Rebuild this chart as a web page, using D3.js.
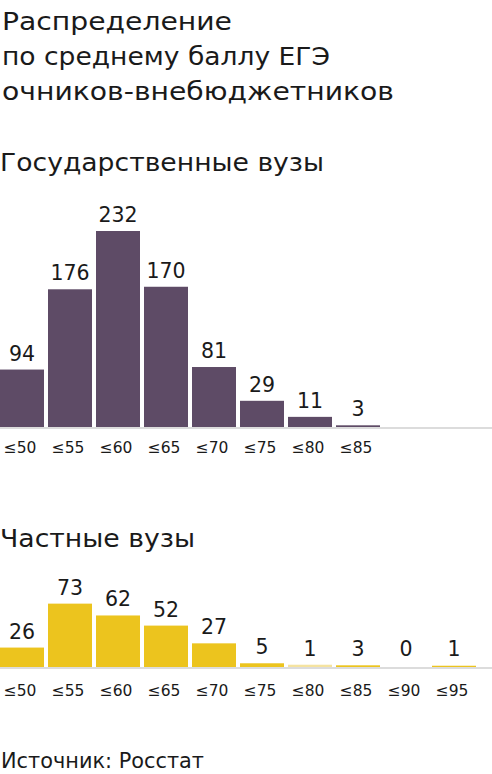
<!DOCTYPE html>
<html><head><meta charset="utf-8">
<script src="https://cdn.jsdelivr.net/npm/d3@7"></script>
<style>
html,body{margin:0;padding:0;background:#fff;overflow:hidden}
text{font-family:"DejaVu Sans",sans-serif;fill:#1a1a1a}
</style></head>
<body><svg id="c" width="492" height="774"></svg>
<script>
const titleLines = ["Распределение", "по среднему баллу ЕГЭ", "очников-внебюджетников"];
const categories = ["≤50","≤55","≤60","≤65","≤70","≤75","≤80","≤85","≤90","≤95"];
const govLabels = [94,176,232,170,81,29,11,3];
const govBarValues = [68,163,232,166,71,31,12,2];
const privLabels = [26,73,62,52,27,5,1,3,0,1];
const privBarValues = [23,75,61,49,28,4.4,2.7,2,0,1.5];
const govTitle = "Государственные вузы";
const privTitle = "Частные вузы";
const source = "Источник: Росстат";

const svg = d3.select("#c");
const x = d3.scaleBand().domain(categories).range([0,476]).paddingInner(4/48).paddingOuter(0);
const h = d3.scaleLinear().domain([0,232]).range([0,196]);

const titleWidths = [230,328,392];
svg.append("g").selectAll("text").data(titleLines).join("text")
  .attr("x",2).attr("y",(d,i)=>30+i*35).style("font-size","24.5px")
  .attr("textLength",(d,i)=>titleWidths[i]).attr("lengthAdjust","spacingAndGlyphs").text(d=>d);

function panel(title, titleY, titleW, base, labels, vals, color, tickCats, tickOff){
  svg.append("text").attr("x",0).attr("y",titleY).style("font-size","25px")
    .attr("textLength",titleW).attr("lengthAdjust","spacingAndGlyphs").text(title);
  const g = svg.append("g");
  g.append("line").attr("x1",0).attr("x2",492).attr("y1",base+1).attr("y2",base+1)
    .attr("stroke","#dcdcdc").attr("stroke-width",2);
  const data = vals.map((v,i)=>({c:categories[i],v,l:labels[i],i}));
  g.selectAll("rect").data(data.filter(d=>d.v>0)).join("rect")
    .attr("x",d=>x(d.c)).attr("width",x.bandwidth())
    .attr("y",d=>base-h(d.v)).attr("height",d=>h(d.v))
    .attr("fill",d=>typeof color==="function"?color(d):color);
  g.selectAll("text.v").data(data).join("text").attr("class","v")
    .attr("x",d=>x(d.c)+x.bandwidth()/2).attr("y",d=>Math.min(base-h(d.v)-9,base-11))
    .attr("text-anchor","middle").style("font-size","20.5px").text(d=>d.l);
  g.selectAll("text.t").data(tickCats).join("text").attr("class","t")
    .attr("x",d=>x(d)+x.bandwidth()/2-2).attr("y",base+tickOff)
    .attr("text-anchor","middle").style("font-size","15.5px").text(d=>d);
}
panel(govTitle,171,324,427,govLabels,govBarValues,"#5e4b66",categories.slice(0,8),26);
panel(privTitle,547,195,667,privLabels,privBarValues,d=>d.c==="≤80"?"#f5e3a0":"#ecc41e",categories,29);
svg.append("text").attr("x",1).attr("y",768).style("font-size","21px")
  .attr("textLength",203).attr("lengthAdjust","spacingAndGlyphs").text(source);
</script></body></html>
